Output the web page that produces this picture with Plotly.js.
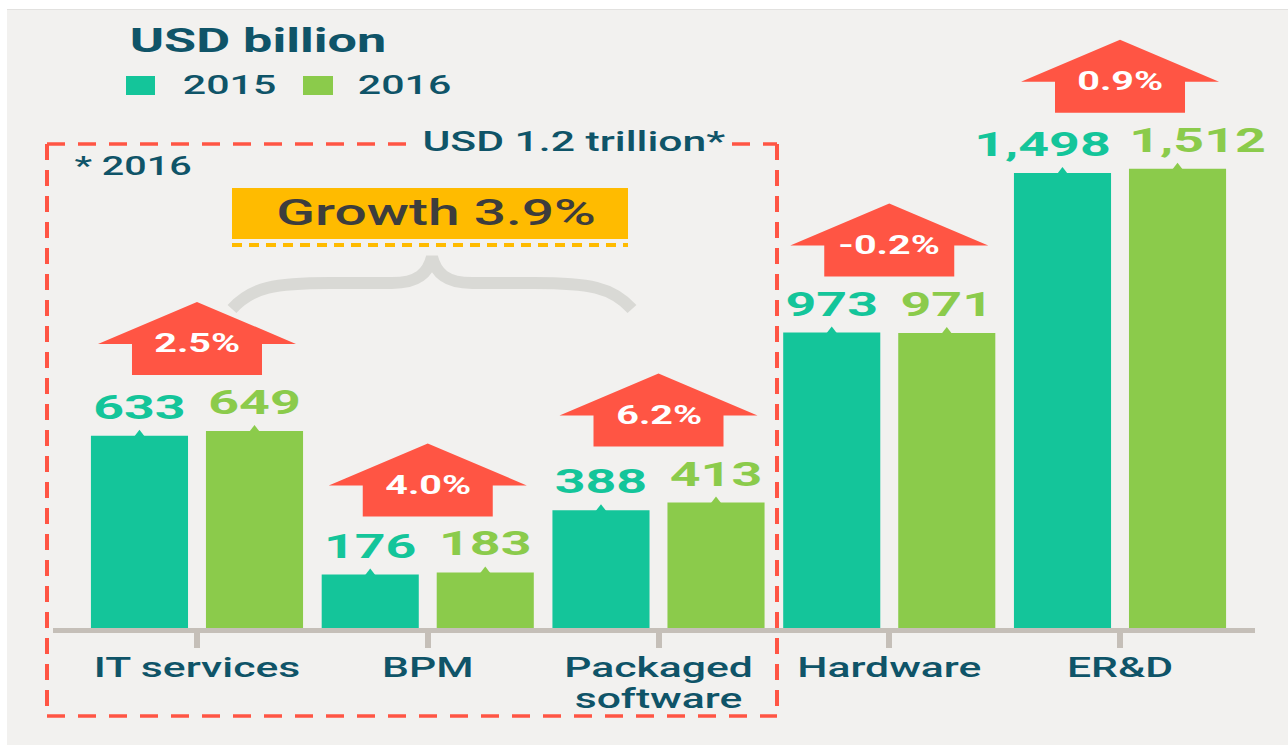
<!DOCTYPE html>
<html><head><meta charset="utf-8">
<script src="https://cdn.plot.ly/plotly-3.0.1.min.js"></script>
<style>html,body{margin:0;padding:0;background:#f2f1ef;overflow:hidden}#chart{width:1288px;height:745px;}</style>
</head><body><div id="chart"></div>
<script>
// ---- data ----
const categories = ['IT services', 'BPM', 'Packaged software', 'Hardware', 'ER&D'];
const tickLabels = ['IT services', 'BPM', 'Packaged<br>software', 'Hardware', 'ER&D'];
const seriesNames = ['2015', '2016'];
const values2015 = [633, 176, 388, 973, 1498];
const values2016 = [649, 183, 413, 971, 1512];
const growthLabels = ['2.5%', '4.0%', '6.2%', '-0.2%', '0.9%'];
const unitTitle = 'USD billion';
const boxTitle = 'USD 1.2 trillion*';
const boxNote = '* 2016';
const growthTitle = 'Growth 3.9%';

// ---- style ----
const TEAL = '#14c59a', GREEN = '#8bcb4b', RED = '#ff5544', DARK = '#0f5468';
const BG = '#f2f1ef', AXIS = '#c5bfb8', YEL = '#ffbb00';
const FONT = 'Roboto';
const L = 53, R = 33, T = 10, B = 117, WIDTH = 1288, HEIGHT = 745;
const PW = WIDTH - L - R, PH = HEIGHT - T - B;
const px = x => (x - L) / PW;
const py = y => (HEIGHT - B - y) / PH;

function line(x0, y0, x1, y1, color, width, dash) {
  return {type: 'line', xref: 'paper', yref: 'paper', x0: px(x0), y0: py(y0), x1: px(x1), y1: py(y1),
          line: {color: color, width: width, dash: dash || 'solid'}};
}
function rect(x0, y0, x1, y1, color) {
  return {type: 'rect', xref: 'paper', yref: 'paper', x0: px(x0), y0: py(y0), x1: px(x1), y1: py(y1),
          fillcolor: color, line: {width: 0}, layer: 'below'};
}
function pathPx(cmds) {
  return cmds.map(c => c[0] + ' ' + c.slice(1).reduce((a, v, i) => {
    if (i % 2 === 0) a.push(px(v).toFixed(5)); else a[a.length - 1] += ',' + py(v).toFixed(5);
    return a;
  }, []).join(' ')).join(' ');
}

const shapes = [
  rect(0, 0, 1288, 9.5, '#ffffff'),
  rect(0, 0, 7, 745, '#ffffff'),
  line(7, 9.5, 1288, 9.5, '#e2e1df', 1),
  // dashed box
  line(47, 144, 47, 716, RED, 4, '16px,10px'),
  line(777, 144, 777, 716, RED, 4, '16px,10px'),
  line(47, 716, 777, 716, RED, 3.5, '18px,13px'),
  line(47, 144, 417, 144, RED, 3.5, '18px,13px'),
  line(732, 144, 777, 144, RED, 3.5, '18px,13px'),
  // growth box
  rect(232, 188, 628, 239, YEL),
  line(232, 245, 628, 245, YEL, 4, '10px,7px'),
  {type: 'path', xref: 'paper', yref: 'paper', line: {color: '#d9d9d5', width: 12}, fillcolor: 'rgba(0,0,0,0)',
   path: pathPx([['M', 232, 309], ['C', 252, 287, 275, 283, 330, 283], ['L', 392, 283],
                 ['C', 418, 283, 428, 273, 432, 257], ['C', 436, 273, 446, 283, 472, 283],
                 ['L', 534, 283], ['C', 589, 283, 612, 287, 632, 309]])},
  // legend swatches
  rect(126, 76, 155, 95, TEAL),
  rect(303, 76, 333, 95, GREEN)
];

const annotations = [];
const ARROW_GAP = 56;
categories.forEach((c, i) => {
  const top = Math.max(values2015[i], values2016[i]);
  const d = ARROW_GAP;
  shapes.push({type: 'path', xref: 'x', yref: 'y', xsizemode: 'pixel', ysizemode: 'pixel',
    xanchor: i, yanchor: top, fillcolor: RED, line: {width: 0},
    path: `M-65,${d} L65,${d} L65,${d + 31} L99,${d + 31} L0,${d + 73} L-99,${d + 31} L-65,${d + 31} Z`});
  annotations.push({xref: 'x', yref: 'y', x: i, y: top, yshift: d + 31, showarrow: false,
    xanchor: 'center', yanchor: 'middle', text: growthLabels[i],
    font: {family: FONT, size: 25, color: '#ffffff', weight: 700}});
});
function textAt(x, y, text, size, color, weight) {
  return {xref: 'paper', yref: 'paper', x: px(x), y: py(y), text: text, showarrow: false,
          xanchor: 'center', yanchor: 'middle', font: {family: FONT, size: size, color: color, weight: weight}};
}
annotations.push(textAt(574, 142, boxTitle, 27, DARK, 500));
annotations.push(textAt(133, 166, boxNote, 25, DARK, 500));
annotations.push(textAt(436, 213, growthTitle, 36, '#3d3d3d', 500));
annotations.push(textAt(229, 85, seriesNames[0], 26, DARK, 500));
annotations.push(textAt(404, 85, seriesNames[1], 26, DARK, 500));

// wide (thousands) labels are pushed apart so that neighbouring labels do not collide
const PAD = '\u00a0\u00a0\u00a0';
const fmt = v => v.toLocaleString('en-US');
const series = [[values2015, TEAL, v => fmt(v) + (v >= 1000 ? PAD : '')],
                [values2016, GREEN, v => (v >= 1000 ? PAD : '') + fmt(v)]];
const traces = [];
series.forEach(([vals, col], k) => {
  traces.push({type: 'bar', x: categories, y: vals, name: seriesNames[k], marker: {color: col, line: {width: 0}},
               hoverinfo: 'skip', showlegend: false});
});
series.forEach(([vals, col, lab], k) => {
  traces.push({type: 'scatter', x: categories, y: vals, name: seriesNames[k], orientation: 'v',
               mode: 'markers+text', marker: {symbol: 'triangle-up', size: 12, color: col, line: {width: 0}},
               text: vals.map(lab), textposition: 'top center', cliponaxis: false,
               textfont: {family: FONT, size: 34, color: col, weight: 700},
               hoverinfo: 'skip', showlegend: false});
});

const layout = {
  width: WIDTH, height: HEIGHT,
  margin: {l: L, r: R, t: T, b: B, pad: 0},
  paper_bgcolor: BG, plot_bgcolor: 'rgba(0,0,0,0)',
  showlegend: false,
  barmode: 'group', bargap: 0.003, bargroupgap: 0.156,
  scattermode: 'group', scattergap: 0.003,
  title: {text: unitTitle, x: 258 / WIDTH, xanchor: 'center', xref: 'container',
          y: 1 - 40 / HEIGHT, yanchor: 'middle', yref: 'container',
          font: {family: FONT, size: 33, color: DARK, weight: 700}},
  xaxis: {type: 'category', categoryorder: 'array', categoryarray: categories,
          range: [-0.624, 4.585], showline: true, linewidth: 5, linecolor: AXIS,
          ticks: 'outside', ticklen: 15, tickwidth: 6, tickcolor: AXIS,
          tickvals: categories, ticktext: tickLabels, ticklabelstandoff: -3,
          tickfont: {family: FONT, size: 27, color: DARK, weight: 500},
          showgrid: false, zeroline: false, fixedrange: true},
  yaxis: {range: [0, 2035], visible: false, fixedrange: true},
  shapes: shapes, annotations: annotations
};

const STRETCH = 1.58;
Plotly.newPlot('chart', traces, layout, {staticPlot: true, displayModeBar: false}).then(gd => {
  gd.querySelectorAll('svg.main-svg text').forEach(t => {
    const lines = t.querySelectorAll('tspan.line');
    const targets = lines.length ? Array.from(lines) : [t];
    targets.forEach(el => {
      const len = el.getComputedTextLength();
      if (len > 0) {
        el.setAttribute('textLength', (len * STRETCH).toFixed(1));
        el.setAttribute('lengthAdjust', 'spacingAndGlyphs');
      }
    });
  });
  // tighter line spacing for the two-line tick label
  gd.querySelectorAll('.xtick text tspan.line').forEach(ts => {
    const dy = ts.getAttribute('dy');
    if (dy && parseFloat(dy) > 0) ts.setAttribute('dy', '1.12em');
  });
});
</script>
</body></html>
